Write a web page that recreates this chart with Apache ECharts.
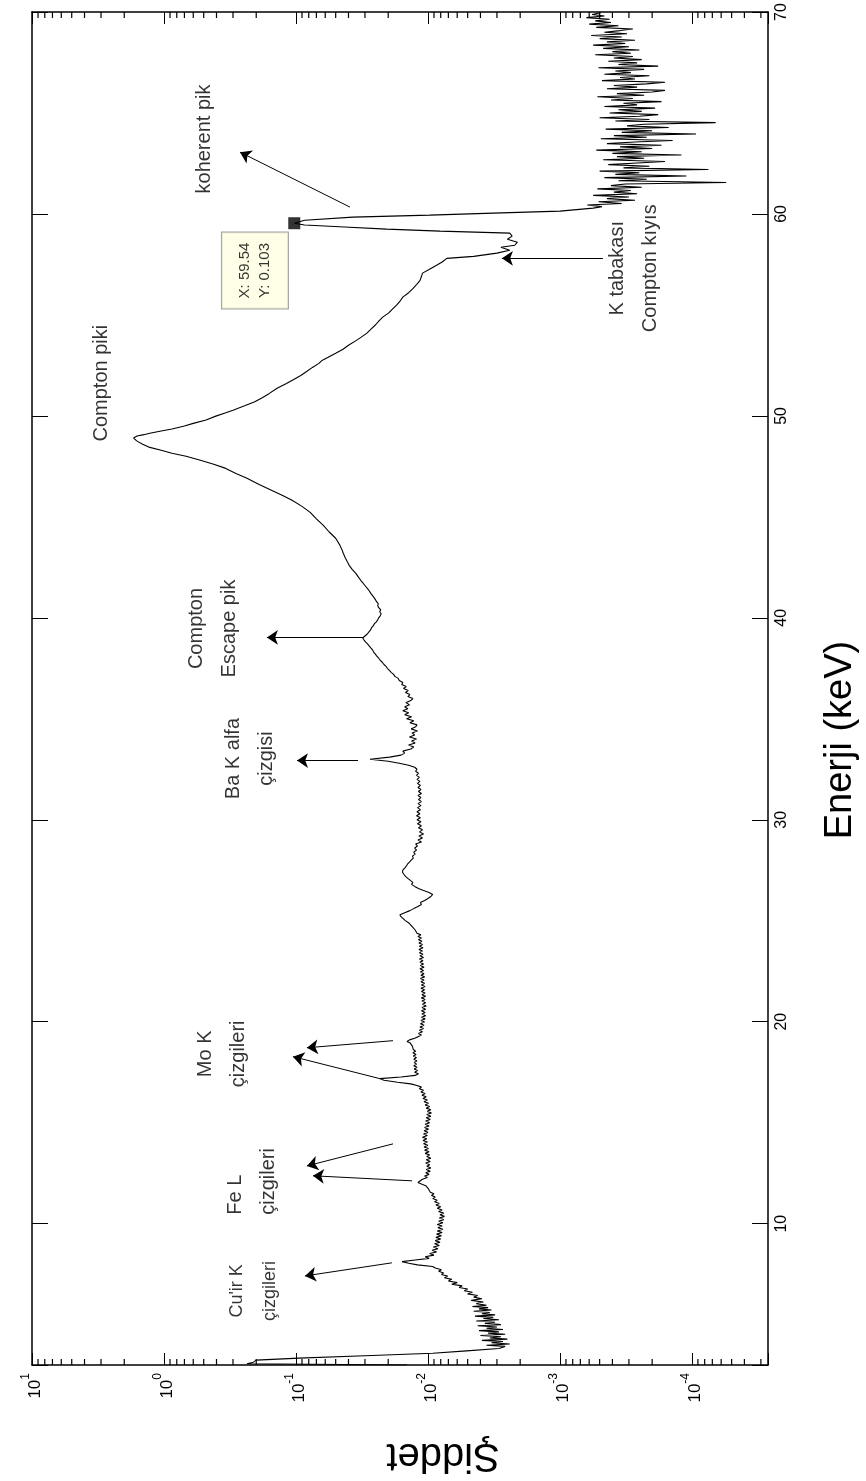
<!DOCTYPE html>
<html><head><meta charset="utf-8">
<script src="https://cdn.jsdelivr.net/npm/echarts@6/dist/echarts.min.js"></script>
<style>html,body{margin:0;padding:0;background:#fff}#c{width:866px;height:1481px}</style>
</head><body><div id="c"></div>
<script>
// ---- DATA: [energy keV, intensity] ----
const spectrum = [
[3.00,0.0144],[3.06,0.235],[3.14,0.21],[3.24,0.20],[3.34,0.095],[3.46,0.030],[3.58,0.0092],[3.70,0.0051],[3.82,0.0029],
[3.92,0.0026],[3.98,0.0036],[4.04,0.0024],[4.10,0.0033],[4.16,0.0027],[4.22,0.0039],[4.28,0.0025],[4.34,0.0034],[4.40,0.0028],[4.46,0.0040],[4.52,0.0026],[4.58,0.0035],[4.64,0.0029],[4.70,0.0041],[4.76,0.0027],[4.82,0.0036],[4.88,0.0030],[4.94,0.0042],[5.00,0.0028],[5.06,0.0037],[5.12,0.0031],[5.18,0.0043],[5.24,0.0029],[5.30,0.0038],[5.36,0.0032],[5.42,0.0044],[5.48,0.0031],[5.54,0.0039],[5.60,0.0034],[5.66,0.0045],[5.72,0.0033],[5.78,0.0041],[5.84,0.0035],[5.90,0.0046],[5.96,0.0036],[6.04,0.0043],[6.12,0.0038],[6.20,0.0047],[6.28,0.0039],[6.36,0.0045],[6.44,0.0042],[6.52,0.0050],[6.60,0.0046],[6.68,0.0053],[6.76,0.0050],[6.84,0.0058],[6.92,0.0055],[7.00,0.0066],[7.08,0.0060],[7.16,0.0070],[7.24,0.0066],[7.32,0.0075],[7.40,0.0071],[7.48,0.0079],[7.56,0.0076],[7.64,0.0083],[7.72,0.0079],[7.80,0.0088],[7.88,0.0092],[7.96,0.0120],[8.04,0.0140],[8.12,0.0157],[8.20,0.0125],[8.28,0.0098],[8.36,0.0105],
[8.44,0.0090],[8.52,0.0097],[8.60,0.0086],[8.68,0.0093],[8.76,0.0084],[8.84,0.0091],[8.92,0.0082],[9.00,0.0089],[9.08,0.0081],[9.16,0.0088],[9.24,0.0080],[9.32,0.0087],[9.40,0.0079],[9.48,0.0086],[9.56,0.0078],[9.64,0.0085],[9.72,0.0077],[9.80,0.0084],[9.88,0.0078],[9.96,0.0085],[10.04,0.0077],[10.12,0.0083],[10.20,0.0076],[10.28,0.0082],[10.36,0.0075],[10.44,0.0081],[10.52,0.0076],[10.60,0.0083],[10.68,0.0078],[10.76,0.0085],[10.84,0.0080],[10.92,0.0087],[11.00,0.0082],[11.08,0.0089],[11.16,0.0085],[11.24,0.0092],[11.32,0.0088],[11.40,0.0094],[11.48,0.0090],[11.56,0.0096],[11.64,0.0093],[11.72,0.0099],[11.80,0.0097],[11.88,0.0104],[11.96,0.0112],[12.04,0.0119],[12.12,0.0120],[12.20,0.0110],[12.28,0.0101],
[12.36,0.0106],[12.44,0.0098],[12.52,0.0104],[12.60,0.0096],[12.68,0.0103],[12.76,0.0095],[12.84,0.0102],[12.92,0.0097],[13.00,0.0104],[13.08,0.0096],[13.16,0.0103],[13.24,0.0095],[13.32,0.0102],[13.40,0.0097],[13.48,0.0105],[13.56,0.0098],[13.64,0.0106],[13.72,0.0099],[13.80,0.0107],[13.88,0.0100],[13.96,0.0108],[14.04,0.0101],[14.12,0.0109],[14.20,0.0102],[14.28,0.0110],[14.36,0.0101],[14.44,0.0108],[14.52,0.0100],[14.60,0.0107],[14.68,0.0099],[14.76,0.0106],[14.84,0.0098],[14.92,0.0105],[15.00,0.0097],[15.08,0.0104],[15.16,0.0096],[15.24,0.0103],[15.32,0.0095],[15.40,0.0102],[15.48,0.0094],[15.56,0.0101],[15.64,0.0095],[15.72,0.0103],[15.80,0.0097],[15.88,0.0105],[15.96,0.0099],[16.04,0.0107],[16.12,0.0101],[16.20,0.0109],[16.28,0.0103],[16.36,0.0111],[16.44,0.0105],[16.52,0.0113],[16.60,0.0108],[16.68,0.0116],[16.76,0.0112],[16.84,0.0121],[16.92,0.0135],[17.00,0.0170],[17.10,0.0215],[17.18,0.0231],[17.26,0.0160],[17.34,0.0125],[17.42,0.0118],
[17.50,0.0126],[17.58,0.0120],[17.66,0.0127],[17.74,0.0121],[17.82,0.0128],[17.90,0.0122],[17.98,0.0127],[18.06,0.0121],[18.14,0.0128],[18.22,0.0122],[18.30,0.0129],[18.38,0.0123],[18.46,0.0130],[18.54,0.0124],[18.62,0.0129],[18.70,0.0125],[18.78,0.0131],[18.86,0.0127],[18.94,0.0136],[19.02,0.0144],[19.10,0.0138],[19.18,0.0126],[19.26,0.0119],
[19.34,0.0112],[19.42,0.0118],[19.50,0.0110],[19.58,0.0116],[19.66,0.0108],[19.74,0.0115],[19.82,0.0107],[19.90,0.0114],[19.98,0.0106],[20.06,0.0113],[20.14,0.0105],[20.22,0.0112],[20.30,0.0104],[20.38,0.0111],[20.46,0.0105],[20.54,0.0112],[20.62,0.0104],[20.70,0.0111],[20.78,0.0103],[20.86,0.0110],[20.94,0.0104],[21.02,0.0111],[21.10,0.0105],[21.18,0.0112],[21.26,0.0104],[21.34,0.0111],[21.42,0.0105],[21.50,0.0112],[21.58,0.0106],[21.66,0.0113],[21.74,0.0105],[21.82,0.0112],[21.90,0.0106],[21.98,0.0113],[22.06,0.0107],[22.14,0.0114],[22.22,0.0106],[22.30,0.0113],[22.38,0.0107],[22.46,0.0114],[22.54,0.0108],[22.62,0.0115],[22.70,0.0107],[22.78,0.0114],[22.86,0.0108],[22.94,0.0115],[23.02,0.0109],[23.10,0.0116],[23.18,0.0108],[23.26,0.0115],[23.34,0.0109],[23.42,0.0116],[23.50,0.0110],[23.58,0.0117],[23.66,0.0109],[23.74,0.0116],[23.82,0.0110],[23.90,0.0117],[23.98,0.0111],[24.06,0.0118],[24.14,0.0112],[24.22,0.0119],[24.30,0.0113],[24.38,0.0121],[24.46,0.0117],[24.54,0.0125],[24.62,0.0122],[24.70,0.0131],[24.78,0.0128],[24.86,0.0138],[24.94,0.0140],[25.02,0.0149],[25.10,0.0152],[25.20,0.0160],[25.30,0.0163],[25.40,0.0150],[25.50,0.0137],[25.60,0.0128],[25.70,0.0119],[25.80,0.0112],[25.90,0.0114],[26.00,0.0106],[26.10,0.0100],[26.20,0.0095],[26.30,0.0092],[26.40,0.0098],[26.50,0.0108],[26.60,0.0118],[26.70,0.0126],[26.80,0.0133],
[26.90,0.0130],[27.00,0.0136],[27.10,0.0142],[27.20,0.0148],[27.30,0.0152],[27.40,0.0156],[27.50,0.0155],[27.60,0.0150],[27.70,0.0146],[27.80,0.0143],[27.90,0.0138],[28.00,0.0134],[28.10,0.0129],[28.20,0.0131],[28.30,0.0125],[28.40,0.0128],[28.50,0.0122],[28.60,0.0126],[28.70,0.0120],[28.80,0.0124],[28.90,0.0112],[29.00,0.0119],[29.10,0.0110],[29.20,0.0117],[29.30,0.0108],[29.40,0.0116],[29.50,0.0110],[29.60,0.0118],[29.70,0.0112],[29.80,0.0120],[29.90,0.0113],[30.00,0.0121],[30.10,0.0114],[30.20,0.0122],[30.30,0.0115],[30.40,0.0121],[30.50,0.0114],[30.60,0.0120],[30.70,0.0113],[30.80,0.0119],[30.90,0.0112],[31.00,0.0118],[31.10,0.0113],[31.20,0.0119],[31.30,0.0112],[31.40,0.0118],[31.50,0.0113],[31.60,0.0119],[31.70,0.0114],[31.80,0.0120],[31.90,0.0115],[32.00,0.0121],[32.10,0.0116],[32.20,0.0122],[32.30,0.0118],[32.40,0.0124],[32.50,0.0121],[32.60,0.0126],[32.70,0.0140],[32.80,0.0165],[32.90,0.0200],[33.00,0.0275],[33.05,0.0270],[33.10,0.0195],[33.20,0.0160],[33.30,0.0150],[33.40,0.0155],[33.50,0.0135],[33.60,0.0128],[33.70,0.0140],[33.80,0.0125],[33.90,0.0133],[34.00,0.0122],[34.10,0.0138],[34.20,0.0126],[34.30,0.0132],[34.40,0.0120],[34.50,0.0134],[34.60,0.0124],[34.70,0.0121],[34.80,0.0137],[34.90,0.0128],[35.00,0.0145],[35.10,0.0133],[35.20,0.0150],[35.30,0.0140],[35.40,0.0155],[35.50,0.0142],[35.60,0.0150],[35.70,0.0138],[35.80,0.0147],[35.90,0.0135],[36.00,0.0130],[36.10,0.0142],[36.20,0.0137],[36.30,0.0148],[36.40,0.0141],[36.50,0.0153],[36.60,0.0146],[36.70,0.0158],[36.80,0.0155],[36.90,0.0165],[37.00,0.0168],[37.10,0.0178],[37.20,0.0182],[37.30,0.0190],[37.40,0.0196],[37.50,0.0203],[37.60,0.0208],[37.70,0.0216],[37.80,0.0222],[37.90,0.0230],[38.00,0.0236],[38.10,0.0244],[38.20,0.0250],[38.30,0.0258],[38.40,0.0262],[38.50,0.0270],[38.60,0.0278],[38.70,0.0286],[38.80,0.0296],[38.90,0.0305],[39.00,0.0312],[39.10,0.0300],[39.20,0.0288],[39.30,0.0280],[39.40,0.0272],[39.50,0.0268],[39.60,0.0260],[39.70,0.0255],[39.80,0.0246],[39.90,0.0240],[40.00,0.0236],[40.10,0.0230],[40.20,0.0226],[40.30,0.0232],[40.40,0.0228],[40.50,0.0236],[40.60,0.0240],[40.70,0.0238],[40.80,0.0245],[40.90,0.0250],[41.00,0.0256],[41.20,0.0270],[41.40,0.0283],[41.60,0.0300],[41.80,0.0318],[42.00,0.0335],[42.20,0.0352],[42.40,0.0375],[42.60,0.0395],[42.80,0.0410],[43.00,0.0425],[43.20,0.0438],[43.40,0.0450],
[43.60,0.0465],[43.94,0.050],[44.25,0.056],[44.58,0.062],[44.90,0.070],[45.22,0.078],[45.52,0.090],[45.82,0.107],[46.05,0.125],[46.31,0.152],[46.60,0.190],[46.91,0.235],[47.15,0.285],[47.40,0.34],[47.60,0.42],[47.80,0.53],[48.00,0.68],[48.15,0.87],[48.30,1.05],[48.44,1.28],[48.60,1.45],[48.75,1.60],[48.90,1.70],[48.96,1.72],
[49.00,1.60],[49.07,1.42],[49.14,1.28],[49.25,1.05],[49.35,0.87],[49.50,0.70],[49.63,0.60],[49.80,0.48],[50.00,0.40],[50.15,0.34],[50.28,0.30],[50.50,0.245],[50.70,0.205],[50.90,0.180],[51.10,0.160],[51.37,0.139],[51.60,0.118],[51.80,0.104],[52.00,0.092],[52.20,0.083],[52.40,0.075],[52.60,0.067],[52.76,0.063],[52.90,0.057],[53.10,0.050],[53.30,0.044],[53.50,0.040],[53.75,0.0346],[53.90,0.032],[54.10,0.029],[54.30,0.027],[54.50,0.025],[54.70,0.0235],[54.89,0.022],[55.10,0.0198],[55.30,0.0185],[55.50,0.0172],[55.70,0.0162],[55.88,0.0155],[56.10,0.0140],[56.30,0.0130],[56.50,0.0122],[56.70,0.0115],[56.90,0.0112],[57.07,0.0110],[57.25,0.0098],[57.46,0.0086],[57.62,0.0078],[57.80,0.0072],[57.90,0.0045],[58.06,0.0030],[58.20,0.0024],[58.35,0.0028],[58.45,0.0022],[58.60,0.0021],[58.75,0.0025],[58.90,0.0023],[59.05,0.0024],
[59.15,0.0081],[59.25,0.0205],[59.35,0.043],[59.45,0.086],[59.54,0.103],[59.69,0.086],[59.84,0.037],[59.94,0.0097],[60.04,0.0032],[60.14,0.0010],[60.29,0.00056],
[60.36,4.8e-4],[60.44,6.2e-4],[60.52,3.4e-4],[60.60,5.1e-4],[60.68,2.7e-4],[60.76,4.4e-4],[60.84,3.0e-4],[60.92,5.6e-4],[61.00,2.6e-4],[61.08,3.9e-4],[61.16,2.9e-4],[61.24,5.2e-4],[61.32,2.4e-4],[61.40,4.1e-4],[61.48,3.2e-4],[61.56,0.55e-4],[61.64,3.6e-4],[61.72,2.2e-4],[61.80,4.6e-4],[61.88,1.1e-4],[61.96,3.8e-4],[62.04,2.5e-4],[62.12,5.0e-4],[62.20,0.75e-4],[62.28,3.3e-4],[62.36,2.1e-4],[62.44,4.3e-4],[62.52,2.6e-4],[62.60,1.6e-4],[62.68,4.7e-4],[62.76,2.3e-4],[62.84,3.7e-4],[62.92,1.2e-4],[63.00,4.0e-4],[63.08,2.4e-4],[63.16,5.3e-4],[63.24,2.0e-4],[63.32,3.5e-4],[63.40,1.7e-4],[63.48,4.4e-4],[63.56,2.7e-4],[63.64,1.4e-4],[63.72,4.9e-4],[63.80,2.2e-4],[63.88,3.9e-4],[63.96,0.93e-4],[64.04,3.4e-4],[64.12,2.0e-4],[64.20,4.5e-4],[64.28,1.5e-4],[64.36,3.1e-4],[64.44,2.3e-4],[64.52,0.66e-4],[64.60,3.8e-4],[64.68,2.1e-4],[64.76,5.0e-4],[64.84,2.5e-4],[64.92,1.8e-4],[65.00,4.2e-4],[65.08,2.4e-4],[65.16,3.6e-4],[65.24,1.9e-4],[65.32,4.6e-4],[65.40,2.6e-4],[65.48,3.3e-4],[65.56,1.7e-4],[65.64,4.1e-4],[65.72,2.8e-4],[65.80,5.2e-4],[65.88,2.3e-4],[65.96,3.7e-4],[66.04,2.0e-4],[66.12,1.6e-4],[66.20,4.4e-4],[66.28,2.6e-4],[66.36,3.9e-4],[66.44,2.2e-4],[66.52,1.6e-4],[66.60,4.8e-4],[66.68,2.7e-4],[66.76,3.5e-4],[66.84,2.1e-4],[66.92,4.6e-4],[67.00,2.9e-4],[67.08,3.8e-4],[67.16,2.3e-4],[67.24,5.1e-4],[67.32,1.8e-4],[67.40,3.6e-4],[67.48,2.6e-4],[67.56,4.3e-4],[67.64,2.4e-4],[67.72,3.9e-4],[67.80,2.8e-4],[67.88,5.4e-4],[67.96,2.9e-4],[68.04,4.0e-4],[68.12,2.5e-4],[68.20,4.7e-4],[68.28,3.0e-4],[68.36,5.6e-4],[68.44,3.2e-4],[68.52,4.4e-4],[68.60,2.7e-4],[68.68,5.0e-4],[68.76,3.4e-4],[68.84,5.8e-4],[68.92,3.1e-4],[69.00,4.6e-4],[69.08,3.5e-4],[69.16,2.8e-4],[69.24,5.3e-4],[69.32,3.6e-4],[69.40,6.0e-4],[69.48,4.1e-4],[69.56,5.4e-4],[69.64,4.2e-4],[69.72,6.3e-4],[69.80,4.6e-4],[69.88,5.7e-4],[69.96,4.9e-4]
];
// axis range / ticks
const energyRange = [3, 70];
const intensityRange = [2.65e-5, 10];
const minorTickValues = [3e-5,4e-5,5e-5,6e-5,7e-5,8e-5,9e-5,
  2e-4,3e-4,4e-4,5e-4,6e-4,7e-4,8e-4,9e-4,
  2e-3,3e-3,4e-3,5e-3,6e-3,7e-3,8e-3,9e-3,
  0.02,0.03,0.04,0.05,0.06,0.07,0.08,0.09,
  0.2,0.3,0.4,0.5,0.6,0.7,0.8,0.9,
  2,3,4,5,6,7,8,9];
// data tip (energy, intensity)
const dataTipPoint = [59.54, 0.103];
const dataTipText = 'X: 59.54\nY: 0.103';
// annotations: [intensity, energy]
const annotationTexts = ['koherent pik','Compton piki','K tabakası\nCompton kıyıs','Compton\nEscape pik','Ba K alfa\nçizgisi','Mo K\nçizgileri','Fe L\nçizgileri',"Cu'ir K\nçizgileri"];
const annotationAt = [[0.489,63.71],[2.95,51.62],[2.75e-4,57.31],[0.4254,39.47],[0.223,33.03],[0.364,18.41],[0.2155,10.44],[0.208,6.67]];
const annotationAlign = ['center','center','center','center','center','center','left','center'];
const arrowsFromTo = [
 [[0.039,60.34],[0.2655,63.06]],
 [[4.72e-4,57.8],[2.75e-3,57.8]],
 [[0.0311,39.03],[0.166,39.03]],
 [[0.0339,32.93],[0.0982,32.93]],
 [[0.0231,17.18],[0.1054,18.27]],
 [[0.0184,19.06],[0.0826,18.71]],
 [[0.0184,13.95],[0.0826,12.86]],
 [[0.0132,12.12],[0.0743,12.37]],
 [[0.01875,8.06],[0.0855,7.41]]
];
const dataTipLabelAt = [0.2046, 57.2];

const FONT = "'Liberation Sans', Arial, sans-serif";
const NARROW = "'Liberation Sans Narrow', 'Liberation Sans', Arial, sans-serif";

function isDecade(v){ const l = Math.log10(v); return Math.abs(l - Math.round(l)) < 1e-6; }

const chart = echarts.init(document.getElementById('c'), null, {renderer:'canvas'});
const axisLineStyle = {show:true, lineStyle:{color:'#000', width:1.5}};
const xBase = {type:'log', logBase:10, min:intensityRange[0], max:intensityRange[1], inverse:true,
  splitLine:{show:false}, minorTick:{show:false}, minorSplitLine:{show:false}, axisLine:axisLineStyle,
  axisTick:{show:true, inside:true, length:12, lineStyle:{color:'#000', width:1}}};
const yBase = {type:'value', min:energyRange[0], max:energyRange[1], splitNumber:7,
  splitLine:{show:false}, axisLine:axisLineStyle,
  axisTick:{show:true, inside:true, length:16, lineStyle:{color:'#000', width:1}}};

chart.setOption({
  animation:false,
  backgroundColor:'#fff',
  grid:{left:32, right:98, top:12, bottom:116, containLabel:false, outerBoundsMode:'none'},
  xAxis:[
    Object.assign({}, xBase, {position:'bottom',
      axisLabel:{show:true, rotate:90, margin:8, color:'#000',
        formatter:function(v){ if(!isDecade(v)) return ''; return '{b|10}{s|' + Math.round(Math.log10(v)) + '}'; },
        rich:{b:{fontSize:17, fontFamily:NARROW, color:'#000', verticalAlign:'bottom', lineHeight:24},
              s:{fontSize:12, fontFamily:NARROW, color:'#000', verticalAlign:'top', lineHeight:24}}}}),
    Object.assign({}, xBase, {position:'top', axisLabel:{show:false}})
  ],
  yAxis:[
    Object.assign({}, yBase, {position:'right',
      axisLabel:{show:true, rotate:90, margin:6, color:'#000', fontSize:16, fontFamily:NARROW,
        formatter:function(v){ return (v % 10 === 0) ? String(v) : ''; }}}),
    Object.assign({}, yBase, {position:'left', axisLabel:{show:false}})
  ],
  graphic:[
    {type:'text', x:841, y:740, rotation:Math.PI/2, style:{text:'Enerji (keV)', fontSize:38, fontFamily:FONT, fill:'#000', align:'center', verticalAlign:'middle'}},
    {type:'text', x:443, y:1455, rotation:Math.PI, style:{text:'Şiddet', fontSize:40, fontFamily:FONT, fill:'#000', align:'center', verticalAlign:'middle'}}
  ],
  series:[
    {type:'custom', name:'minorTicks', xAxisIndex:0, yAxisIndex:0, silent:true, z:1,
     data: minorTickValues.map(v => [v, energyRange[1]]),
     encode:{x:0, y:1},
     renderItem:function(params, api){
       const x = api.coord([api.value(0), api.value(1)])[0];
       const cs = params.coordSys;
       return {type:'group', children:[
         {type:'line', shape:{x1:x, y1:cs.y+cs.height, x2:x, y2:cs.y+cs.height-6}, style:{stroke:'#000', lineWidth:1.2}},
         {type:'line', shape:{x1:x, y1:cs.y, x2:x, y2:cs.y+6}, style:{stroke:'#000', lineWidth:1.2}}
       ]};
     }},
    {type:'line', name:'Spektrum', xAxisIndex:0, yAxisIndex:0, showSymbol:false, symbol:'none',
     data: spectrum.map(p => [p[1], p[0]]),
     lineStyle:{color:'#000', width:1.1}, itemStyle:{color:'#000'}, z:3,
     markLine:{silent:true, symbol:['none','arrow'], symbolSize:11, animation:false,
       lineStyle:{color:'#000', width:1, type:'solid'}, label:{show:false},
       emphasis:{disabled:true},
       data: arrowsFromTo.map(a => [{coord:a[0]}, {coord:a[1]}])}},
    {type:'scatter', name:'labels', xAxisIndex:0, yAxisIndex:0, silent:true, symbolSize:1,
     itemStyle:{color:'rgba(0,0,0,0)'}, z:5,
     data: annotationTexts.map((t,i) => ({value:annotationAt[i],
       label:{show:true, position:'inside', rotate:90, formatter:t, align:annotationAlign[i], verticalAlign:'middle',
         color:'#000', fontSize:(i===7?18:20), lineHeight:33, fontFamily:FONT}}))},
    {type:'scatter', name:'datatip', xAxisIndex:0, yAxisIndex:0, silent:true, symbol:'rect', symbolSize:12,
     itemStyle:{color:'#000'}, z:6,
     data:[[dataTipPoint[1], dataTipPoint[0]]]},
    {type:'scatter', name:'datatipBox', xAxisIndex:0, yAxisIndex:0, silent:true, symbolSize:1,
     itemStyle:{color:'rgba(0,0,0,0)'}, z:7,
     data:[{value:dataTipLabelAt, label:{show:true, position:'inside', rotate:90, formatter:dataTipText,
       align:'center', verticalAlign:'middle', color:'#000', fontSize:15, lineHeight:20, fontFamily:NARROW,
       backgroundColor:'#ffffe1', borderColor:'#8a8a8a', borderWidth:1, padding:[13,10,13,10]}}]}
  ]
});
</script></body></html>
